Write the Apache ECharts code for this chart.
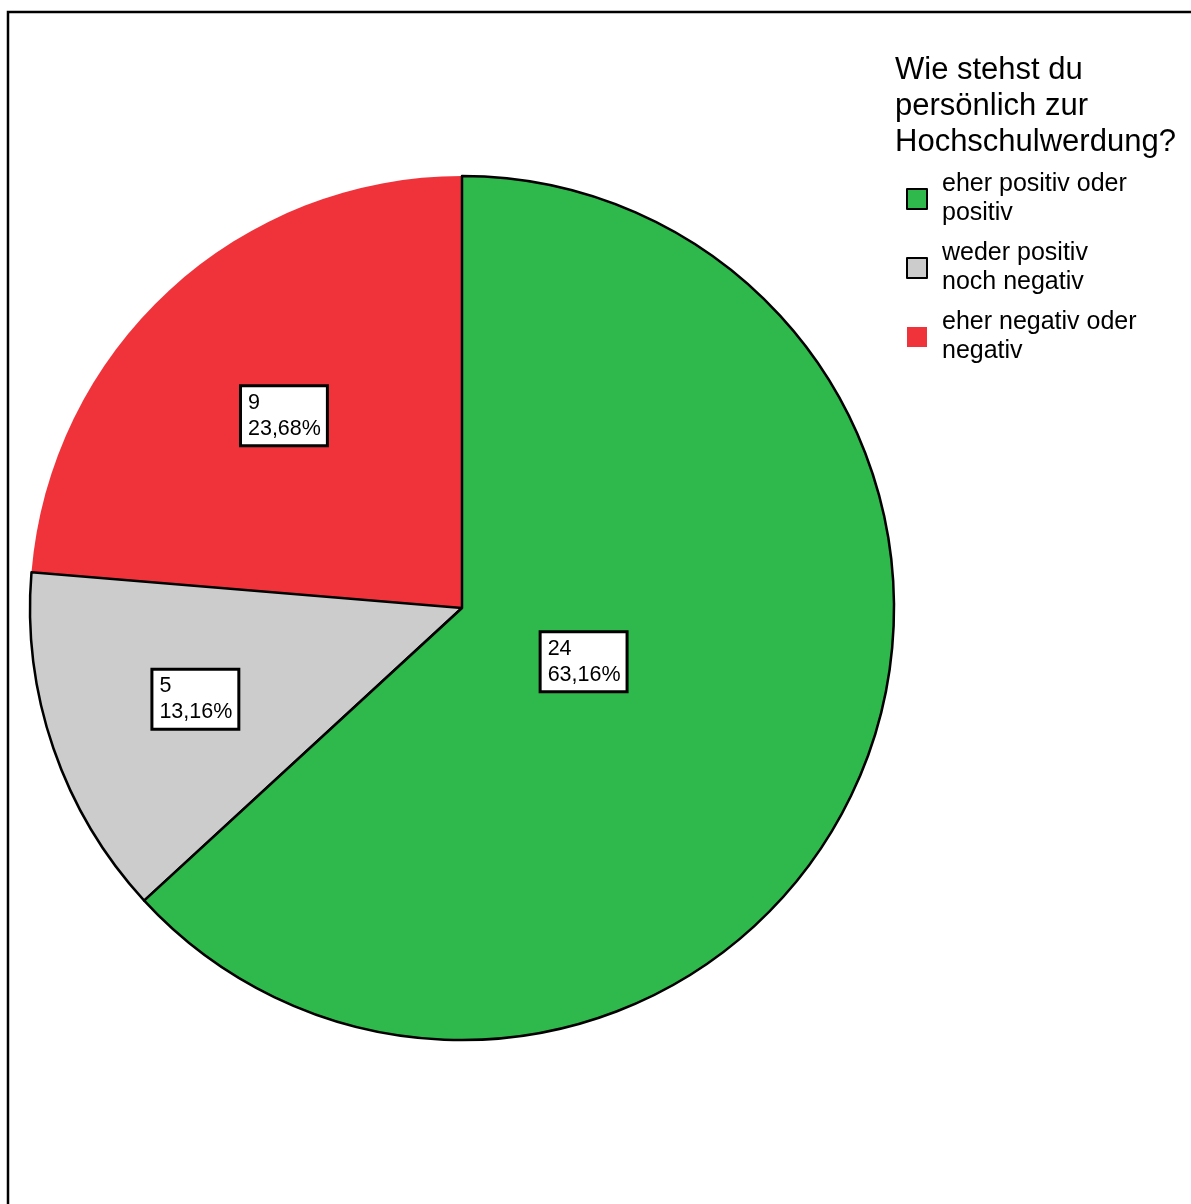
<!DOCTYPE html>
<html>
<head>
<meta charset="utf-8">
<script src="https://cdn.jsdelivr.net/npm/echarts@6/dist/echarts.min.js"></script>
<style>
  html, body { margin: 0; padding: 0; background: #fff; }
  #chart { width: 1191px; height: 1204px; }
</style>
</head>
<body>
<div id="chart"></div>
<script>
// Survey answers: "Wie stehst du persönlich zur Hochschulwerdung?"
const categories = ['eher positiv oder positiv', 'weder positiv noch negativ', 'eher negativ oder negativ'];
const legendLines = ['eher positiv oder\npositiv', 'weder positiv\nnoch negativ', 'eher negativ oder\nnegativ'];
const counts = [24, 5, 9];
const colors = ['#2FB84B', '#CCCCCC', '#F0333A'];
const outlined = [true, true, false];
// how far out from the centre each value box sits (share of the radius)
const labelRadiusShare = [0.31, 0.65, 0.605];

const FONT = '"Liberation Sans", Arial, Helvetica, sans-serif';
const CX = 462, CY = 608, R = 432;

const total = counts.reduce((a, b) => a + b, 0);
const pctText = v => (v / total * 100).toFixed(2).replace('.', ',') + '%';

// middle angle of each slice, clockwise from 12 o'clock
const midAngle = [];
let acc = 0;
counts.forEach(v => {
  const span = v / total * 360;
  midAngle.push(acc + span / 2);
  acc += span;
});

// drawn in reverse (counter-clockwise) so the outlined slices are painted last
const order = [2, 1, 0];
const seriesData = order.map(i => ({
  name: categories[i],
  value: counts[i],
  itemStyle: {
    color: colors[i],
    borderColor: '#000',
    borderWidth: outlined[i] ? 2.5 : 0
  }
}));

const chart = echarts.init(document.getElementById('chart'), null, { renderer: 'canvas' });

chart.setOption({
  animation: false,
  backgroundColor: '#fff',
  textStyle: { fontFamily: FONT },
  graphic: [{
    type: 'rect',
    shape: { x: 8, y: 12, width: 1400, height: 1400 },
    style: { fill: 'none', stroke: '#000', lineWidth: 2.5 },
    silent: true,
    z: 100
  }],
  title: {
    text: 'Wie stehst du\npersönlich zur\nHochschulwerdung?',
    left: 895,
    top: 52,
    padding: 0,
    textStyle: { fontFamily: FONT, fontSize: 31, lineHeight: 36, fontWeight: 'normal', color: '#000' }
  },
  legend: {
    data: categories,
    orient: 'vertical',
    left: 906,
    top: 170,
    padding: 0,
    itemGap: 11,
    itemWidth: 20,
    itemHeight: 20,
    icon: 'rect',
    selectedMode: false,
    formatter: name => legendLines[categories.indexOf(name)],
    textStyle: {
      fontFamily: FONT, fontSize: 25, lineHeight: 29, color: '#000',
      padding: [0, 0, 0, 10]
    }
  },
  series: [{
    type: 'pie',
    center: [CX, CY],
    radius: R,
    startAngle: 90,
    clockwise: false,
    silent: true,
    data: seriesData,
    labelLine: { show: false },
    label: {
      show: true,
      position: 'inside',
      formatter: p => p.value + '\n' + pctText(p.value),
      fontFamily: FONT,
      fontSize: 21.5,
      lineHeight: 26,
      color: '#000',
      align: 'left',
      backgroundColor: '#fff',
      borderColor: '#000',
      borderWidth: 3,
      padding: [3, 5, 2, 6]
    },
    labelLayout: p => {
      const i = order[p.dataIndex];
      const a = midAngle[i] * Math.PI / 180;
      const r = R * labelRadiusShare[i];
      const x = CX + r * Math.sin(a);
      const y = CY - r * Math.cos(a);
      return { x: x - 43, y: y, align: 'left', verticalAlign: 'middle' };
    }
  }]
});
</script>
</body>
</html>
